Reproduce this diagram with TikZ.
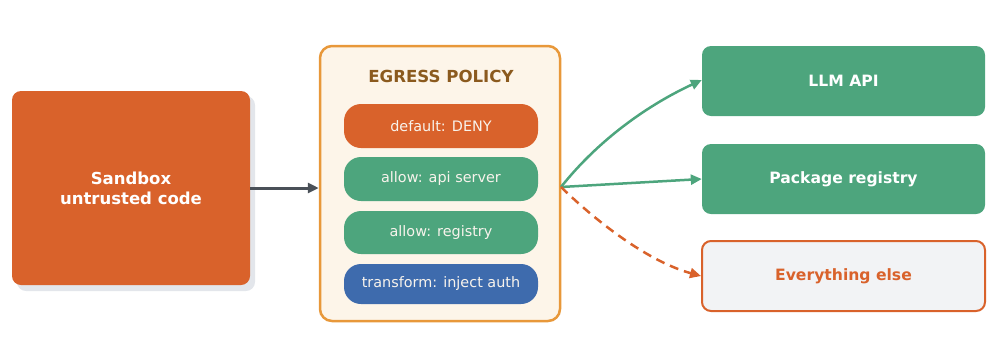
\documentclass[tikz,border=0pt]{standalone}
\usepackage{fontspec}
\setmainfont{DejaVu Sans}
\usetikzlibrary{arrows.meta}
\definecolor{cOrange}{HTML}{D9622B}
\definecolor{cGreen}{HTML}{4DA57D}
\definecolor{cBlue}{HTML}{3E6BAD}
\definecolor{cBrown}{HTML}{8B5A1E}
\definecolor{cPolFill}{HTML}{FDF5E9}
\definecolor{cPolDraw}{HTML}{E8983A}
\definecolor{cArrow}{HTML}{4A5058}
\definecolor{cShadow}{HTML}{E3E6EB}
\definecolor{cGray}{HTML}{F2F3F5}
\definecolor{cPillText}{HTML}{F8F3EC}
\tikzset{
  box/.style={rectangle, rounded corners=9pt, inner sep=0pt, text=white, font=\fontsize{15.6}{19}\selectfont\bfseries, align=center},
  pill/.style={rectangle, rounded corners=17pt, inner sep=0pt, minimum width=194pt, text=cPillText, font=\fontsize{14.4}{17}\selectfont},
  tip/.style={-{Triangle[length=11pt,width=10pt]}},
}
\begin{document}
\begin{tikzpicture}[x=1pt,y=-1pt]
\useasboundingbox (0,0) rectangle (998,341);
% sandbox with shadow
\fill[cShadow, rounded corners=9pt] (17,96) rectangle (255,291);
\node[box, fill=cOrange, minimum width=238pt, minimum height=194pt, font=\fontsize{16.5}{20}\selectfont\bfseries] (sand) at (131,188) {Sandbox\\untrusted code};
% policy
\node[rectangle, rounded corners=12pt, draw=cPolDraw, line width=2.5pt, fill=cPolFill, minimum width=240pt, minimum height=275pt, inner sep=0pt] (policy) at (440,183.5) {};
\node[text=cBrown, font=\fontsize{16.6}{19}\selectfont\bfseries] (title) at (441,76) {EGRESS POLICY};
\node[pill, fill=cOrange, minimum height=44pt] (p1) at (441,126) {default: DENY};
\node[pill, fill=cGreen, minimum height=44pt] (p2) at (441,179) {allow: api server};
\node[pill, fill=cGreen, minimum height=43pt] (p3) at (441,232.5) {allow: registry};
\node[pill, fill=cBlue, minimum height=40pt] (p4) at (441,284) {transform: inject auth};
% right boxes
\node[box, fill=cGreen, minimum width=283pt, minimum height=70pt] (llm) at (843.5,81) {LLM API};
\node[box, fill=cGreen, minimum width=283pt, minimum height=70pt] (pkg) at (843.5,179) {Package registry};
\node[box, fill=cGray, draw=cOrange, line width=2pt, text=cOrange, minimum width=283pt, minimum height=70pt] (else) at (843.5,276) {Everything else};
% connectors
\draw[cArrow, line width=3pt, tip] (sand.east) -- (policy.west |- sand.east);
\coordinate (out) at (561,187);
\draw[cGreen, line width=2.5pt, tip] (out) .. controls (600,138) and (650,104) .. ([yshift=1pt]llm.west);
\draw[cGreen, line width=2.5pt, tip] (out) -- (pkg.west);
\draw[cOrange, line width=2.5pt, dash pattern=on 9pt off 6pt, tip] (out) .. controls (600,225) and (650,262) .. (else.west);
\end{tikzpicture}
\end{document}
